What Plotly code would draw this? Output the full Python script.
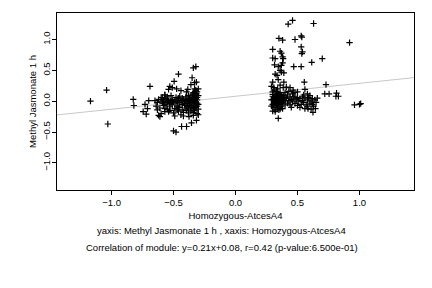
import plotly.graph_objects as go

# ---- data ----
outlier_x = [-1.17, -1.04, -1.03, -0.825, -0.82, -0.69, -0.745, -0.73, -0.72, -0.71, -0.70]
outlier_y = [0.00, 0.18, -0.37, 0.03, -0.07, 0.24, -0.17, -0.05, -0.21, -0.12, 0.01]

left_x = [-0.65, -0.63, -0.62, -0.60, -0.59, -0.58, -0.57, -0.56, -0.55, -0.54, -0.53, -0.52,
          -0.51, -0.50, -0.49, -0.48, -0.47, -0.46, -0.45, -0.44, -0.43, -0.42, -0.41, -0.40,
          -0.39, -0.38, -0.37, -0.36, -0.35, -0.34, -0.33, -0.32, -0.31, -0.30,
          -0.64, -0.61, -0.58, -0.55, -0.53, -0.51, -0.49, -0.47, -0.45, -0.43, -0.41, -0.40,
          -0.39, -0.38, -0.37, -0.36, -0.35, -0.34, -0.33, -0.32, -0.31, -0.30, -0.34, -0.31,
          -0.36, -0.33, -0.30, -0.38, -0.42, -0.46, -0.50, -0.57, -0.60, -0.63,
          -0.60, -0.57, -0.55, -0.52, -0.48, -0.45, -0.43, -0.40, -0.38, -0.36, -0.35, -0.34,
          -0.33, -0.32, -0.31, -0.30, -0.34, -0.31, -0.30,
          -0.32, -0.34, -0.46, -0.35, -0.36, -0.33, -0.315, -0.495, -0.53, -0.51, -0.475,
          -0.54, -0.395, -0.385, -0.44, -0.33, -0.32, -0.57, -0.59, -0.345, -0.315,
          -0.61, -0.62, -0.54, -0.49, -0.42, -0.435, -0.395, -0.50, -0.48, -0.355, -0.315,
          -0.375, -0.34, -0.53, -0.57, -0.46, -0.395, -0.34, -0.44, -0.41, -0.37, -0.33,
          -0.47, -0.52, -0.56, -0.35, -0.32, -0.31, -0.39, -0.37]
left_y = [0.01, -0.02, 0.03, 0.00, -0.03, 0.02, -0.01, 0.04, -0.02, 0.01, -0.04, 0.00,
          0.03, -0.01, 0.02, -0.03, 0.00, 0.05, -0.02, 0.01, -0.05, 0.03, -0.01, 0.02,
          -0.04, 0.00, 0.04, -0.02, 0.01, -0.03, 0.03, -0.01, 0.02, -0.05,
          -0.08, -0.11, -0.07, -0.13, -0.09, -0.06, -0.12, -0.08, -0.10, -0.14, -0.07, -0.11,
          -0.09, -0.13, -0.06, -0.10, -0.08, -0.12, -0.07, -0.10, -0.08, -0.13, -0.18, -0.20,
          -0.16, -0.15, -0.22, -0.19, -0.18, -0.16, -0.19, -0.17, -0.20, -0.14,
          0.06, 0.10, 0.07, 0.09, 0.06, 0.08, 0.05, 0.07, 0.09, 0.06, 0.10, 0.05,
          0.08, 0.12, 0.06, 0.09, 0.14, 0.15, 0.20,
          0.56, 0.54, 0.44, 0.38, 0.27, 0.30, 0.31, 0.32, 0.24, 0.22, 0.20,
          0.19, 0.15, 0.19, 0.17, 0.20, 0.18, 0.10, 0.06, 0.12, 0.12,
          -0.25, -0.23, -0.17, -0.24, -0.24, -0.41, -0.41, -0.48, -0.50, -0.35, -0.31,
          -0.25, -0.23, -0.15, -0.12, -0.10, -0.15, -0.15, -0.22, -0.04, 0.03, 0.00,
          -0.14, -0.02, -0.06, 0.02, 0.04, -0.03, 0.01, -0.07]

right_x = [0.29, 0.30, 0.30, 0.31, 0.31, 0.31, 0.32, 0.32, 0.32, 0.33, 0.33, 0.33,
           0.34, 0.34, 0.34, 0.35, 0.35, 0.35, 0.36, 0.36, 0.36, 0.37, 0.37, 0.38,
           0.38, 0.38, 0.39, 0.39, 0.40, 0.40, 0.30, 0.31, 0.30, 0.32, 0.33, 0.35,
           0.29, 0.30, 0.31, 0.32, 0.33, 0.34, 0.35, 0.36, 0.37, 0.38,
           0.41, 0.42, 0.42, 0.43, 0.44, 0.44, 0.45, 0.46, 0.46, 0.47, 0.48, 0.48,
           0.49, 0.50, 0.50, 0.51, 0.52, 0.53, 0.54, 0.54, 0.55, 0.56, 0.57, 0.58,
           0.58, 0.59, 0.60, 0.60, 0.61, 0.62, 0.62, 0.63, 0.64, 0.65, 0.66, 0.45,
           0.52, 0.56, 0.61, 0.40, 0.43, 0.47, 0.50, 0.55, 0.58,
           0.425, 0.46, 0.63, 0.92, 0.35, 0.38, 0.48, 0.53, 0.535, 0.30, 0.30, 0.32,
           0.36, 0.37, 0.53, 0.54, 0.535, 0.38, 0.385, 0.70, 0.615, 0.315, 0.345,
           0.47, 0.53, 0.37, 0.38, 0.36, 0.37, 0.39, 0.32, 0.335, 0.345, 0.39, 0.30,
           0.555, 0.73, 0.385, 0.29, 0.31, 0.41, 0.44, 0.465, 0.56, 0.72, 0.755,
           0.815, 0.81, 0.83, 0.96, 1.00, 1.01, 0.345, 0.625, 0.585, 0.645,
           0.31, 0.33, 0.35, 0.37, 0.39, 0.34, 0.36, 0.32, 0.30, 0.34, 0.36, 0.38]
right_y = [0.02, -0.05, 0.08, 0.00, -0.10, 0.05, -0.03, 0.10, -0.14, 0.02, -0.07, 0.06,
           -0.01, 0.12, -0.11, 0.04, -0.05, 0.08, 0.00, -0.09, 0.14, 0.03, -0.04, 0.07,
           -0.02, -0.12, 0.01, 0.10, -0.06, 0.04, 0.15, 0.18, -0.16, -0.17, 0.16, -0.14,
           -0.08, 0.03, -0.03, 0.04, -0.01, 0.03, 0.00, 0.05, 0.09, 0.02,
           0.05, -0.03, 0.10, 0.01, 0.07, -0.06, 0.03, -0.01, 0.12, 0.05, -0.04, 0.08,
           0.02, -0.07, 0.06, 0.00, 0.04, -0.05, 0.07, 0.01, -0.02, 0.05, -0.06, 0.02,
           -0.09, 0.06, -0.03, 0.09, 0.00, -0.05, 0.04, -0.08, 0.02, -0.02, 0.05, -0.10,
           -0.10, -0.12, -0.13, 0.14, 0.16, 0.14, 0.15, 0.10, 0.12,
           1.25, 1.31, 1.26, 0.95, 1.02, 0.99, 1.00, 1.06, 1.04, 0.84, 0.70, 0.69,
           0.81, 0.78, 0.88, 0.80, 0.77, 0.72, 0.69, 0.69, 0.63, 0.59, 0.56,
           0.56, 0.56, 0.58, 0.62, 0.50, 0.47, 0.46, 0.44, 0.42, 0.35, 0.31, 0.31,
           0.31, 0.27, 0.22, 0.24, 0.22, 0.23, 0.22, 0.18, 0.19, 0.12, 0.12,
           0.13, 0.08, 0.08, -0.06, -0.05, -0.04, -0.28, -0.18, -0.12, -0.12,
           0.07, -0.02, 0.11, -0.08, 0.06, 0.20, 0.26, -0.06, 0.11, 0.08, -0.13, 0.00]

slope = 0.21
intercept = 0.08
x_range = [-1.44, 1.44]
y_range = [-1.44, 1.43]
tick_vals = [-1.0, -0.5, 0.0, 0.5, 1.0]
x_tick_vals = [-1.0, -0.5, 0.0, 0.5, 1.0]

x_title = "Homozygous-AtcesA4"
y_title = "Methyl Jasmonate 1 h"
caption1 = "yaxis: Methyl Jasmonate 1 h , xaxis: Homozygous-AtcesA4"
caption2 = "Correlation of module: y=0.21x+0.08, r=0.42 (p-value:6.500e-01)"

xs = outlier_x + left_x + right_x
ys = outlier_y + left_y + right_y

FONT = "Liberation Sans, Arial, sans-serif"

fig = go.Figure()
line_x = x_range
line_y = [slope * v + intercept for v in line_x]
fig.add_trace(go.Scatter(x=line_x, y=line_y, mode="lines",
                         line=dict(color="#c8c8c8", width=1), hoverinfo="skip"))
fig.add_trace(go.Scatter(x=xs, y=ys, mode="markers",
                         marker=dict(symbol="cross-thin", size=4.5,
                                     line=dict(color="black", width=1.2))))

axis_common = dict(showgrid=False, zeroline=False, showline=True, linecolor="black",
                   linewidth=1, mirror=True, ticks="outside", ticklen=4,
                   tickcolor="black", tickwidth=1, tickformat=".1f",
                   tickfont=dict(family=FONT, size=9.5, color="black"))

fig.update_layout(
    width=432, height=288,
    margin=dict(l=57, r=18, t=13, b=98),
    paper_bgcolor="white", plot_bgcolor="white",
    showlegend=False,
    font=dict(family=FONT, size=9.5, color="black"),
    xaxis=dict(range=x_range, tickvals=x_tick_vals,
               title=dict(text=x_title, font=dict(family=FONT, size=9.5, color="black"), standoff=4),
               **axis_common),
    yaxis=dict(range=y_range, tickvals=tick_vals, tickangle=-90, ticklabelstandoff=-2,
               title=dict(text=y_title, font=dict(family=FONT, size=9.5, color="black"), standoff=2),
               **axis_common),
    annotations=[
        dict(text=caption1, xref="paper", yref="paper", x=0.462, y=-0.226,
             xanchor="center", yanchor="middle", showarrow=False,
             font=dict(family=FONT, size=9.5, color="black")),
        dict(text=caption2, xref="paper", yref="paper", x=0.462, y=-0.327,
             xanchor="center", yanchor="middle", showarrow=False,
             font=dict(family=FONT, size=9.5, color="black")),
    ],
)

fig.write_html("out.html")
